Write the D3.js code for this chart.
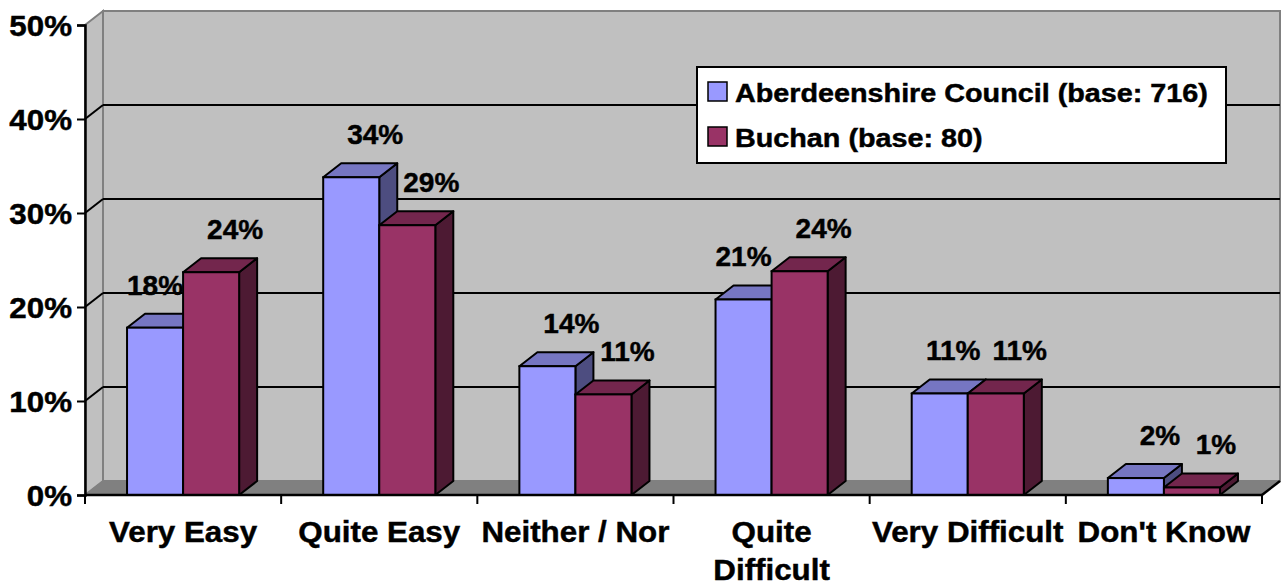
<!DOCTYPE html>
<html>
<head>
<meta charset="utf-8">
<script src="https://cdn.jsdelivr.net/npm/d3@7"></script>
<style>
  html, body { margin: 0; padding: 0; background: #ffffff; }
  svg { display: block; }
  text { font-family: "Liberation Sans", Arial, sans-serif; font-weight: bold; fill: #000; stroke: #000; stroke-width: 0.45px; }
</style>
</head>
<body>
<svg id="chart" width="1281" height="586"></svg>
<script>
// ---- data ----
const categories = ["Very Easy", "Quite Easy", "Neither / Nor", "Quite Difficult", "Very Difficult", "Don't Know"];
const seriesNames = ["Aberdeenshire Council (base: 716)", "Buchan (base: 80)"];
const aberdeenshire = [17.8, 33.8, 13.7, 20.8, 10.8, 1.8];
const buchan = [23.7, 28.7, 10.7, 23.8, 10.8, 0.8];
const yTicks = [0, 10, 20, 30, 40, 50];

(function () {
// ---- styles ----
const colors = [
  { front: "#9999FF", top: "#7676C2", side: "#4D4D80" },
  { front: "#993366", top: "#73264D", side: "#4D1A33" }
];
const wallFill = "#C0C0C0", wallEdge = "#808080", floorFill = "#808080";
const DX = 18, DY = -14;          // 3D depth offset
const seriesValues = [aberdeenshire, buchan];

const svg = d3.select("#chart");
const pL = 85, pR = 1262, pB = 495, pT = 25;

const y = d3.scaleLinear().domain([0, 50]).range([pB, pT]);
const x = d3.scaleBand().domain(categories).range([pL, pR]).paddingInner(0).paddingOuter(0);
const xs = d3.scaleBand().domain(d3.range(seriesNames.length)).range([0, x.bandwidth()]).paddingInner(0).paddingOuter(0.75);

// ---- walls ----
svg.append("polygon")
  .attr("points", [[pL, y(50)], [pL + DX, y(50) + DY], [pL + DX, y(0) + DY], [pL, y(0)]].join(" "))
  .attr("fill", wallFill).attr("stroke", wallEdge).attr("stroke-width", 2);
svg.append("rect")
  .attr("x", pL + DX).attr("y", y(50) + DY)
  .attr("width", pR - pL).attr("height", y(0) - y(50))
  .attr("fill", wallFill).attr("stroke", wallEdge).attr("stroke-width", 2);
svg.append("polygon")
  .attr("points", [[pL, y(0)], [pL + DX, y(0) + DY], [pR + DX, y(0) + DY], [pR, y(0)]].join(" "))
  .attr("fill", floorFill).attr("stroke", wallEdge).attr("stroke-width", 1);

const inner = yTicks.filter(t => t > 0 && t < 50);
svg.append("g").selectAll("line").data(inner).join("line")
  .attr("x1", pL + DX).attr("x2", pR + DX)
  .attr("y1", d => y(d) + DY).attr("y2", d => y(d) + DY)
  .attr("stroke", "#000").attr("stroke-width", 2);
svg.append("g").selectAll("line").data(inner).join("line")
  .attr("x1", pL).attr("x2", pL + DX)
  .attr("y1", d => y(d)).attr("y2", d => y(d) + DY)
  .attr("stroke", "#000").attr("stroke-width", 2);

// ---- legend ----
const lg = svg.append("g");
lg.append("rect").attr("x", 697).attr("y", 67).attr("width", 529).attr("height", 96)
  .attr("fill", "#fff").attr("stroke", "#000").attr("stroke-width", 2);
seriesNames.forEach((name, i) => {
  const ry = 82 + i * 45;
  lg.append("rect").attr("x", 708).attr("y", ry).attr("width", 19).attr("height", 19)
    .attr("fill", colors[i].front).attr("stroke", "#000").attr("stroke-width", 1.5);
  lg.append("text").attr("transform", `translate(735,${ry + 20}) scale(1.15,1)`)
    .attr("font-size", 25).text(name);
});

// ---- bars ----
const bars = svg.append("g");
categories.forEach((cat, ci) => {
  seriesValues.forEach((vals, si) => {
    const v = vals[ci];
    const x0 = x(cat) + xs(si), w = xs.bandwidth();
    const yt = y(v), yb = y(0);
    const c = colors[si];
    const g = bars.append("g");
    g.append("polygon")
      .attr("points", [[x0 + w, yt], [x0 + w + DX, yt + DY], [x0 + w + DX, yb + DY], [x0 + w, yb]].join(" "))
      .attr("fill", c.side).attr("stroke", "#000").attr("stroke-width", 2).attr("stroke-linejoin", "round");
    g.append("polygon")
      .attr("points", [[x0, yt], [x0 + DX, yt + DY], [x0 + w + DX, yt + DY], [x0 + w, yt]].join(" "))
      .attr("fill", c.top).attr("stroke", "#000").attr("stroke-width", 2).attr("stroke-linejoin", "round");
    g.append("rect").attr("x", x0).attr("y", yt).attr("width", w).attr("height", yb - yt)
      .attr("fill", c.front).attr("stroke", "#000").attr("stroke-width", 2);
  });
});

// ---- axes ----
const yAxis = d3.axisLeft(y).tickValues(yTicks).tickSize(8).tickFormat("");
const yg = svg.append("g").attr("transform", `translate(${pL},0)`).call(yAxis);
yg.select(".domain").attr("stroke", "#000").attr("stroke-width", 2.5);
yg.selectAll(".tick line").attr("stroke", "#000").attr("stroke-width", 2);
yg.selectAll(".tick").append("text")
  .attr("text-anchor", "end")
  .attr("transform", "translate(-13,10.5) scale(1.08,1)")
  .attr("font-size", 29).attr("fill", "#000")
  .text(d => d + "%");

svg.append("line").attr("x1", pL).attr("x2", pR).attr("y1", pB).attr("y2", pB)
  .attr("stroke", "#000").attr("stroke-width", 2.5);
svg.append("line").attr("x1", pR).attr("x2", pR + DX).attr("y1", pB).attr("y2", pB + DY)
  .attr("stroke", "#000").attr("stroke-width", 2.5);
const bounds = categories.map(c => x(c)).concat([pR]);
svg.append("g").selectAll("line").data(bounds).join("line")
  .attr("x1", d => d).attr("x2", d => d).attr("y1", pB).attr("y2", pB + 9)
  .attr("stroke", "#000").attr("stroke-width", 2);

const xg = svg.append("g");
categories.forEach(cat => {
  const cx = x(cat) + x.bandwidth() / 2;
  const t = xg.append("text").attr("text-anchor", "middle")
    .attr("transform", `translate(${cx},542) scale(1.08,1)`)
    .attr("font-size", 29).text(cat);
  const wdt = t.node().getComputedTextLength() * 1.08;
  if (wdt > x.bandwidth() * 1.01) {
    const words = cat.split(" ");
    t.text(null);
    words.forEach((wd, i) => {
      t.append("tspan").attr("x", 0).attr("dy", i === 0 ? 0 : 38).text(wd);
    });
  }
});

// ---- data labels ----
const lbl = svg.append("g");
categories.forEach((cat, ci) => {
  const placed = [];
  seriesValues.forEach((vals, si) => {
    const v = vals[ci];
    const x0 = x(cat) + xs(si), w = xs.bandwidth();
    const next = seriesValues[si + 1];
    const blocked = next && next[ci] > v;
    const cx = x0 + w / 2 + (blocked ? 0 : 24);
    const t = lbl.append("text").attr("text-anchor", "middle")
      .attr("x", cx).attr("y", y(v) - 33)
      .attr("font-size", 28)
      .text(Math.round(v) + "%");
    placed.push({ t, cx, y: y(v) - 33, w: t.node().getComputedTextLength() });
  });
  // avoid touching labels at the same height
  for (let i = placed.length - 2; i >= 0; i--) {
    const a = placed[i], b = placed[i + 1];
    if (Math.abs(a.y - b.y) < 24) {
      const overlap = (a.cx + a.w / 2 + 12) - (b.cx - b.w / 2);
      if (overlap > 0) { a.cx -= overlap; a.t.attr("x", a.cx); }
    }
  }
});
})();
</script>
</body>
</html>
